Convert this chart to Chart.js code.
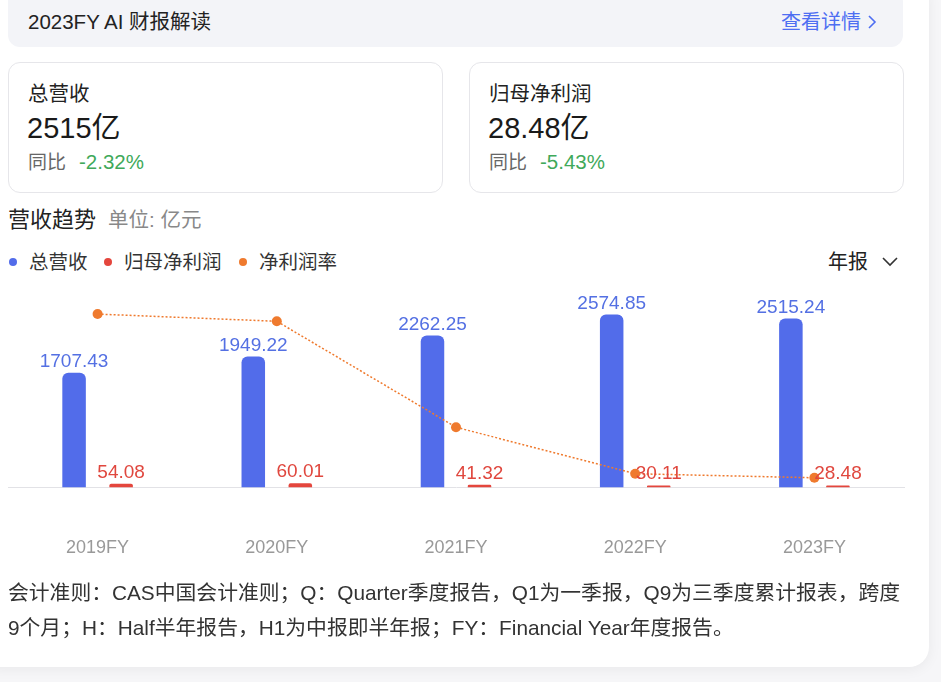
<!DOCTYPE html>
<html>
<head>
<meta charset="utf-8">
<script src="https://cdn.jsdelivr.net/npm/chart.js@4.4.1/dist/chart.umd.min.js"></script>
<style>
  html, body { margin: 0; padding: 0; }
  body {
    width: 941px; height: 682px; overflow: hidden; position: relative;
    background: #f6f6f8;
    font-family: "Liberation Sans", Arial, "Noto Sans CJK SC", sans-serif;
    color: #222;
  }
  .card {
    position: absolute; left: -20px; top: -20px; width: 949px; height: 687px;
    background: #fff; border-radius: 20px;
    box-shadow: 0 2px 14px rgba(0,0,0,0.06);
  }
  .abs { position: absolute; white-space: nowrap; }
  .topbar {
    position: absolute; left: 8px; top: -10px; width: 895px; height: 57px;
    background: #f3f4f8; border-radius: 12px;
  }
  .stat {
    position: absolute; top: 62px; width: 435px; height: 131px;
    border: 1px solid #e6e6ea; border-radius: 12px; box-sizing: border-box;
  }
  .dot { position: absolute; width: 8px; height: 8px; border-radius: 50%; }
</style>
</head>
<body>
<div class="card"></div>
<div class="topbar"></div>
<div class="abs" style="left:28px; top:9px; font-size:20.5px; line-height:26px; color:#222;">2023FY AI 财报解读</div>
<div class="abs" style="left:781px; top:9px; font-size:20px; line-height:26px; color:#4e6ef2;">查看详情 <svg width="10" height="16" viewBox="0 0 10 16" style="vertical-align:-1px"><polyline points="2,2 8,8 2,14" fill="none" stroke="#4e6ef2" stroke-width="1.6"/></svg></div>

<div class="stat" style="left:8px;"></div>
<div class="stat" style="left:469px;"></div>
<div id="stats"></div>

<div class="abs" style="left:8px; top:206px; font-size:22px; line-height:28px; color:#222;">营收趋势<span style="font-size:20.5px; color:#888; margin-left:12px;">单位: 亿元</span></div>
<div id="legend"></div>
<div class="abs" style="left:828px; top:249px; font-size:20px; line-height:26px; color:#222;">年报 <svg width="16" height="10" viewBox="0 0 16 10" style="margin-left:8px; vertical-align:2px"><polyline points="1,1 8,8 15,1" fill="none" stroke="#333" stroke-width="1.6"/></svg></div>

<div style="position:absolute; left:3px; top:285px; width:906px; height:324px;">
  <canvas id="c"></canvas>
</div>

<div class="abs" style="left:8px; top:575px; font-size:20.8px; line-height:35px; color:#333;">会计准则：CAS中国会计准则；Q：Quarter季度报告，Q1为一季报，Q9为三季度累计报表，跨度<br>9个月；H：Half半年报告，H1为中报即半年报；FY：Financial Year年度报告。</div>

<script>
const years = ["2019FY", "2020FY", "2021FY", "2022FY", "2023FY"];
const revenue = [1707.43, 1949.22, 2262.25, 2574.85, 2515.24];
const netProfit = [54.08, 60.01, 41.32, 30.11, 28.48];
const netMargin = [3.17, 3.08, 1.76, 1.18, 1.13];

const seriesNames = ["总营收", "归母净利润", "净利润率"];
const seriesColors = ["#526cea", "#e4463d", "#ef7a2e"];
const labelColors = ["#5470e3", "#e0473e"];
const legendX = [13, 108, 243];

const statCards = [
  { x: 28, title: "总营收", value: "2515亿", yoy: "-2.32%" },
  { x: 489, title: "归母净利润", value: "28.48亿", yoy: "-5.43%" },
];

// header cards
document.getElementById("stats").innerHTML = statCards.map(s => `
  <div class="abs" style="left:${s.x}px; top:80px; font-size:20.5px; line-height:28px; color:#222;">${s.title}</div>
  <div class="abs" style="left:${s.x - 1}px; top:111px; font-size:29px; line-height:34px; color:#1a1a1a;">${s.value}</div>
  <div class="abs" style="left:${s.x}px; top:150px; font-size:19px; line-height:24px; color:#666;">同比<span style="color:#3fa95a; margin-left:13px; font-size:20.5px;">${s.yoy}</span></div>
`).join("");

document.getElementById("legend").innerHTML = seriesNames.map((n, i) => `
  <span class="dot" style="left:${legendX[i] - 4}px; top:258px; background:${seriesColors[i]};"></span>
  <div class="abs" style="left:${legendX[i] + 16}px; top:249px; font-size:19.5px; line-height:26px; color:#333;">${n}</div>
`).join("");

// value labels above bars
const valueLabels = {
  id: "valueLabels",
  afterDatasetsDraw(chart) {
    const ctx = chart.ctx;
    ctx.save();
    ctx.font = '19px "Liberation Sans", Arial, sans-serif';
    ctx.textAlign = "center";
    ctx.textBaseline = "alphabetic";
    [0, 1].forEach(di => {
      const meta = chart.getDatasetMeta(di);
      ctx.fillStyle = labelColors[di];
      meta.data.forEach((bar, i) => {
        const v = chart.data.datasets[di].data[i];
        ctx.fillText(v.toFixed(2), bar.x, bar.y - 6);
      });
    });
    ctx.restore();
  }
};

new Chart(document.getElementById("c"), {
  type: "bar",
  data: {
    labels: years,
    datasets: [
      {
        label: seriesNames[0], data: revenue, backgroundColor: seriesColors[0],
        borderRadius: { topLeft: 6, topRight: 6 }, borderSkipped: "bottom",
        categoryPercentage: 0.525, barPercentage: 0.5, yAxisID: "y", order: 1,
      },
      {
        label: seriesNames[1], data: netProfit, backgroundColor: seriesColors[1],
        borderRadius: { topLeft: 6, topRight: 6 }, borderSkipped: "bottom",
        categoryPercentage: 0.525, barPercentage: 0.5, yAxisID: "y", order: 1,
      },
      {
        type: "line", label: seriesNames[2], data: netMargin, yAxisID: "y2", order: 0,
        borderColor: seriesColors[2], borderWidth: 1.5, borderDash: [2, 2],
        pointRadius: 5, pointBackgroundColor: seriesColors[2], pointBorderWidth: 0,
        tension: 0, fill: false,
      },
    ],
  },
  options: {
    responsive: true,
    maintainAspectRatio: false,
    animation: false,
    layout: { padding: 0 },
    plugins: { legend: { display: false }, tooltip: { enabled: false } },
    scales: {
      x: {
        grid: { display: false, drawTicks: false },
        border: { display: true, color: "#e2e2e6", width: 1 },
        ticks: { color: "#999", font: { size: 18, family: '"Liberation Sans", Arial, sans-serif' }, padding: 50 },
      },
      y: { display: false, min: 0, max: 2940 },
      y2: { display: false, min: 1.01, max: 3.47 },
    },
  },
  plugins: [valueLabels],
});
</script>
</body>
</html>
